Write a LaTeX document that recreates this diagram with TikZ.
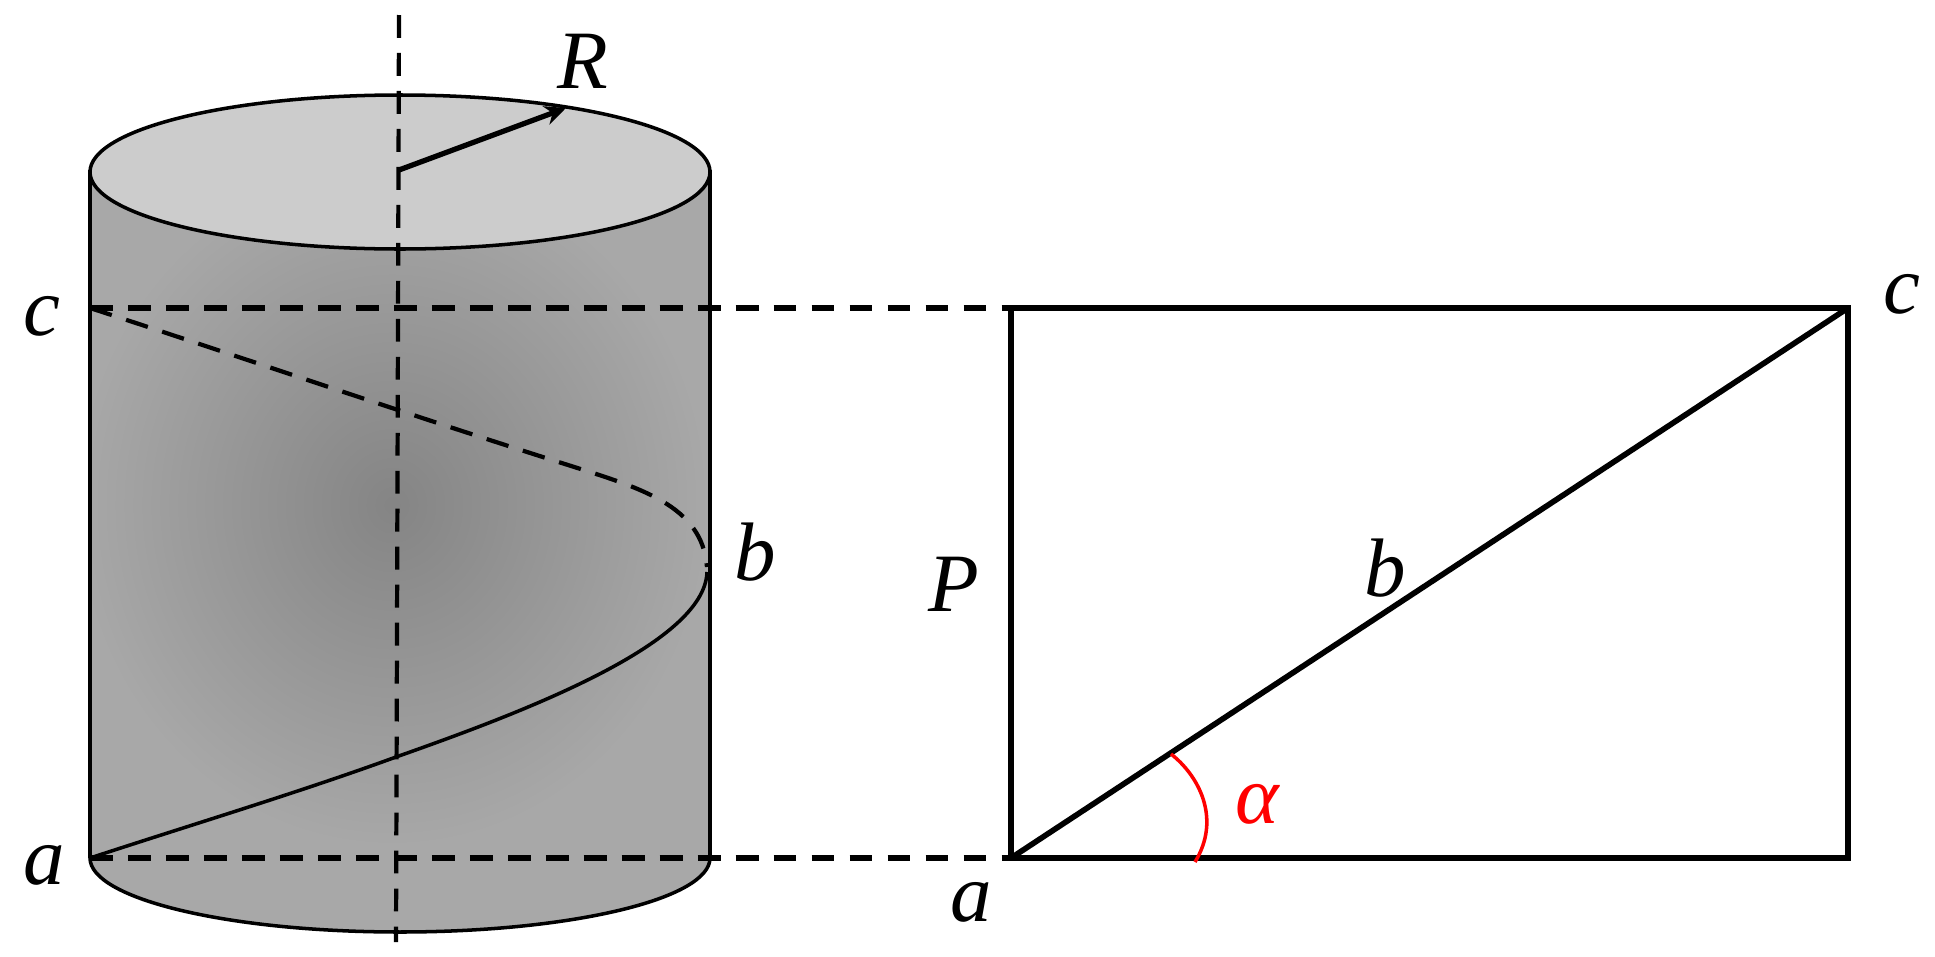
\documentclass[tikz,border=0pt]{standalone}
\usepackage{fontspec}
\usetikzlibrary{arrows.meta}
\setmainfont{Liberation Serif}
\definecolor{cylcore}{gray}{0.52}
\definecolor{cylrim}{gray}{0.66}
\definecolor{cyltop}{gray}{0.80}
\pgfdeclareradialshading{cylshade}{\pgfpoint{0bp}{0bp}}{color(0bp)=(cylcore); color(25bp)=(cylrim); color(50bp)=(cylrim)}
\tikzset{
  letter/.style={inner sep=0pt,font=\fontsize{23.6}{28}\selectfont\itshape},
  thinline/.style={line width=1pt},
  thickline/.style={line width=1.6pt},
  dashline/.style={line width=1.6pt,dash pattern=on 6.5pt off 4.3pt},
  thindash/.style={line width=1.2pt,dash pattern=on 6.5pt off 4.3pt}
}
\begin{document}
\begin{tikzpicture}[x=0.01cm,y=-0.01cm]
  \useasboundingbox (0,0) rectangle (1935,957);
  \coordinate (tl) at (90,170);
  \coordinate (tr) at (710,170);
  \coordinate (ca) at (90,858);
  \coordinate (cb) at (710,858);
  \coordinate (cc) at (90,308);
  \coordinate (ra) at (1011,858);
  \coordinate (rc) at (1848,308);
  \coordinate (hb) at (707,572);
  % cylinder body
  \fill[cylrim] (tl) -- (ca) arc[start angle=180,end angle=360,x radius=310,y radius=-74] -- (tr) -- cycle;
  \begin{scope}
    \clip (tl) -- (ca) arc[start angle=180,end angle=360,x radius=310,y radius=-74] -- (tr) -- cycle;
    \shade[shading=cylshade] (392,505) ellipse[x radius=320,y radius=345];
  \end{scope}
  \draw[thinline] (tl) -- (ca) arc[start angle=180,end angle=360,x radius=310,y radius=-74] -- (tr);
  \draw[thinline,fill=cyltop] (400,172) ellipse[x radius=310,y radius=77];
  % helix
  \draw[thinline] (ca) .. controls (200,822) and (300,792) .. (396,757) .. controls (515,715) and (705,645) .. (hb);
  \draw[thindash] (cc) .. controls (250,360) and (400,412) .. (568,465) .. controls (640,488) and (702,505) .. (707,567);
  % axis and radius
  \draw[thindash] (399,15) -- (396,942);
  \draw[-{Stealth[length=6pt,width=5.5pt]},line width=1.5pt] (399,170) -- (566,108);
  % projection lines
  \draw[dashline] (cc) -- (1011,308);
  \draw[dashline] (ca) -- (ra);
  % developed surface
  \draw[thickline] (1011,308) rectangle (1848,858);
  \draw[thickline] (ra) -- (rc);
  \draw[red,thinline] (1171,754) .. controls (1198,775) and (1222,818) .. (1195,862);
  % labels
  \node[letter] (lR) at (583,61) {R};
  \node[letter] (lcl) at (42,316) {c};
  \node[letter] (lal) at (44,865) {a};
  \node[letter] (lbl) at (755,552) {b};
  \node[letter] (lcr) at (1902,294) {c};
  \node[letter] (lP) at (954,584) {P};
  \node[letter] (lbr) at (1385,568) {b};
  \node[letter] (lar) at (971,902) {a};
  \node[letter,text=red] (lalpha) at (1257,804) {α};
\end{tikzpicture}
\end{document}
